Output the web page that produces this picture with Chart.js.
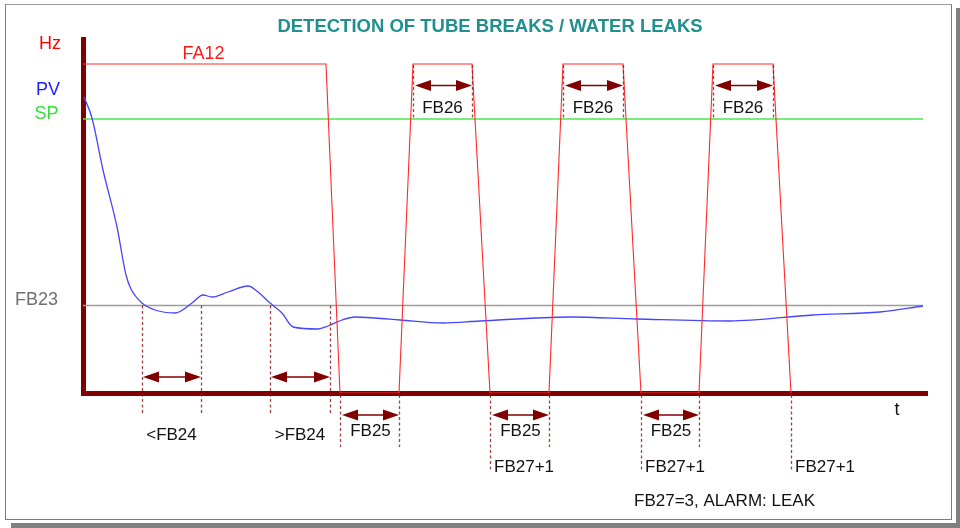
<!DOCTYPE html>
<html>
<head>
<meta charset="utf-8">
<title>Detection of tube breaks / water leaks</title>
<script src="https://cdn.jsdelivr.net/npm/chart.js@4/dist/chart.umd.min.js"></script>
<style>
  html, body { margin: 0; padding: 0; background: #ffffff; }
  #stage { position: relative; width: 960px; height: 528px; overflow: hidden; }
  #shadow { position: absolute; left: 11px; top: 8px; width: 960px; height: 528px; background: #808080; }
  #paper { position: absolute; left: 0; top: 0; width: 956px; height: 523px; background: #ffffff; }
  #frame { position: absolute; left: 5px; top: 4px; width: 947px; height: 516px; box-sizing: border-box;
           border: 1.5px solid #7c7c7c; border-top-color: #9a9a9a; }
  canvas { position: absolute; left: 0; top: 0; }
</style>
</head>
<body>
<div id="stage">
  <div id="shadow"></div>
  <div id="paper"></div>
  <div id="frame"></div>
  <canvas id="chart" width="960" height="528"></canvas>
</div>
<script>
// Pump frequency FA12 (Hz): full speed, then stop / restart cycles
const freqTimes  = [0, 24.3, 25.7, 31.6, 33.0, 38.9, 40.7, 46.6, 48.0, 54.0, 55.8, 61.6, 63.0, 69.0, 70.8];
const freqValues = [32.9, 32.9, 0, 0, 32.9, 32.9, 0, 0, 32.9, 32.9, 0, 0, 32.9, 32.9, 0];

// Process value PV (pressure)
const pvTimes  = [0.1, 0.9, 2.0, 3.4, 4.3, 4.8, 5.9, 7.2, 9.2, 10.9, 12.0, 12.9, 14.5, 16.5, 17.5, 18.7,
                  19.9, 21.0, 23.5, 24.5, 25.9, 27.2, 29.2, 31.7, 36.0, 39.7, 48.7, 55.4, 64.7, 73.0, 79.7, 84.0];
const pvValues = [29.6, 27.5, 22.3, 16.6, 11.8, 10.4, 9.0, 8.3, 8.0, 9.0, 9.8, 9.6, 10.1, 10.7, 10.1, 9.0,
                  8.0, 6.6, 6.4, 6.7, 7.3, 7.6, 7.5, 7.3, 7.0, 7.2, 7.6, 7.4, 7.2, 7.8, 8.1, 8.7];

// Set point SP and leak threshold FB23
const spLevel   = 27.4;
const fb23Level = 8.75;
const levelSpan = [0, 84.0];

// Timing windows
const fb24Windows = [[5.9, 11.8], [18.7, 24.7]];
const fb24Labels  = ['<FB24', '>FB24'];
const fb25Windows = [[25.7, 31.6], [40.7, 46.6], [55.8, 61.6]];
const fb26Windows = [[33.0, 38.9], [48.0, 54.0], [63.0, 69.0]];
const fb27Marks   = [40.7, 55.8, 70.8];

const FONT = "'Liberation Sans', Arial, Helvetica, sans-serif";
const DARK_RED = '#800000';

function zip(xs, ys) { return xs.map((v, i) => ({ x: v, y: ys[i] })); }

function dashedV(ctx, x, y1, y2) {
  ctx.save();
  ctx.strokeStyle = 'rgba(140, 20, 20, 0.8)';
  ctx.lineWidth = 1.3;
  ctx.setLineDash([3, 2.5]);
  ctx.beginPath();
  ctx.moveTo(Math.round(x) + 0.5, y1);
  ctx.lineTo(Math.round(x) + 0.5, y2);
  ctx.stroke();
  ctx.restore();
}

function doubleArrow(ctx, x1, x2, y) {
  const head = 16, half = 5.5;
  ctx.save();
  ctx.strokeStyle = DARK_RED;
  ctx.fillStyle = DARK_RED;
  ctx.lineWidth = 1.5;
  ctx.beginPath();
  ctx.moveTo(x1 + head - 2, y);
  ctx.lineTo(x2 - head + 2, y);
  ctx.stroke();
  ctx.beginPath();
  ctx.moveTo(x1, y);
  ctx.lineTo(x1 + head, y - half);
  ctx.lineTo(x1 + head, y + half);
  ctx.closePath();
  ctx.fill();
  ctx.beginPath();
  ctx.moveTo(x2, y);
  ctx.lineTo(x2 - head, y - half);
  ctx.lineTo(x2 - head, y + half);
  ctx.closePath();
  ctx.fill();
  ctx.restore();
}

function label(ctx, text, x, y, opts) {
  ctx.save();
  ctx.font = (opts.weight || 'normal') + ' ' + (opts.size || 17) + 'px ' + FONT;
  ctx.fillStyle = opts.color || '#111111';
  ctx.textAlign = opts.align || 'center';
  ctx.textBaseline = 'middle';
  ctx.fillText(text, x, y);
  ctx.restore();
}

const leakAnnotations = {
  id: 'leakAnnotations',
  afterDatasetsDraw(chart) {
    const { ctx, chartArea, scales: { x, y } } = chart;
    const px = v => x.getPixelForValue(v);
    const py = v => y.getPixelForValue(v);
    const axisY = py(0);
    const topY = py(Math.max(...freqValues));
    const spY = py(spLevel);
    const fb23Y = py(fb23Level);

    // FB24: PV crossing threshold windows
    fb24Windows.forEach(([a, b], i) => {
      dashedV(ctx, px(a), fb23Y, axisY + 20);
      dashedV(ctx, px(b), fb23Y, axisY + 20);
      doubleArrow(ctx, px(a) + 1, px(b), axisY - 16);
      label(ctx, fb24Labels[i], (px(a) + px(b)) / 2, axisY + 42, {});
    });

    // FB25: pump stopped windows
    fb25Windows.forEach(([a, b]) => {
      const counted = fb27Marks.includes(a);
      dashedV(ctx, px(a), axisY + 2, axisY + (counted ? 79 : 54));
      dashedV(ctx, px(b), axisY + 2, axisY + 54);
      doubleArrow(ctx, px(a) + 2, px(b), axisY + 22);
      label(ctx, 'FB25', (px(a) + px(b)) / 2 + 1, axisY + 38, {});
    });

    // FB27 counter increments
    fb27Marks.forEach(t => {
      if (!fb25Windows.some(w => w[0] === t)) dashedV(ctx, px(t), axisY + 2, axisY + 79);
      label(ctx, 'FB27+1', px(t) + 4, axisY + 74, { align: 'left' });
    });

    // FB26: pump running windows
    fb26Windows.forEach(([a, b]) => {
      dashedV(ctx, px(a), topY + 1, spY);
      dashedV(ctx, px(b), topY + 1, spY);
      doubleArrow(ctx, px(a) + 2, px(b), topY + 21.5);
      label(ctx, 'FB26', (px(a) + px(b)) / 2, topY + 44, {});
    });

    // Axis and series names
    const nameX = chartArea.left - 23;
    label(ctx, 'Hz', nameX + 1, chartArea.top + 5, { align: 'right', size: 18, color: '#ff0000' });
    label(ctx, 'PV', nameX, py(pvValues[0]) - 6.5, { align: 'right', size: 18, color: '#1c1cff' });
    label(ctx, 'SP', nameX - 1.5, spY - 5, { align: 'right', size: 18, color: '#33e033' });
    label(ctx, 'FB23', nameX - 2, fb23Y - 5.5, { align: 'right', size: 18, color: '#707070' });
    label(ctx, 'FA12', px(12.05), topY - 10, { size: 18, color: '#ff1a1a' });
    label(ctx, 't', px(81.4), axisY + 17, { size: 18, color: '#111111' });
    label(ctx, 'FB27=3, ALARM: LEAK', px(64.15), axisY + 108, {});
  }
};

new Chart(document.getElementById('chart'), {
  type: 'scatter',
  data: {
    datasets: [
      {
        label: 'FA12',
        data: zip(freqTimes, freqValues),
        showLine: true,
        borderColor: '#ff2a2a',
        borderWidth: 1.1,
        pointRadius: 0,
        tension: 0
      },
      {
        label: 'PV',
        data: zip(pvTimes, pvValues),
        showLine: true,
        borderColor: '#4646ff',
        borderWidth: 1.3,
        pointRadius: 0,
        cubicInterpolationMode: 'monotone'
      },
      {
        label: 'SP',
        data: zip(levelSpan, [spLevel, spLevel]),
        showLine: true,
        borderColor: '#4ee64e',
        borderWidth: 1.3,
        pointRadius: 0
      },
      {
        label: 'FB23',
        data: zip(levelSpan, [fb23Level, fb23Level]),
        showLine: true,
        borderColor: '#9c9c9c',
        borderWidth: 1.4,
        pointRadius: 0
      }
    ]
  },
  options: {
    responsive: false,
    animation: false,
    devicePixelRatio: 1,
    layout: { padding: { left: 53, right: 33, top: 5, bottom: 0 } },
    plugins: {
      legend: { display: false },
      tooltip: { enabled: false },
      title: {
        display: true,
        text: 'DETECTION OF TUBE BREAKS / WATER LEAKS',
        color: '#1f8f8f',
        font: { family: FONT, size: 18.5, weight: 'bold', lineHeight: 1.2 },
        padding: { top: 11, bottom: 0.8 }
      }
    },
    scales: {
      x: {
        type: 'linear',
        min: 0,
        max: 84.4,
        grid: { display: false },
        ticks: { display: false },
        border: { display: true, color: DARK_RED, width: 5 },
        afterFit(scale) { scale.height = 135; }
      },
      y: {
        type: 'linear',
        min: 0,
        max: 35.4,
        grid: { display: false },
        ticks: { display: false },
        border: { display: true, color: DARK_RED, width: 5 },
        afterFit(scale) { scale.width = 30; }
      }
    }
  },
  plugins: [leakAnnotations]
});
</script>
</body>
</html>
